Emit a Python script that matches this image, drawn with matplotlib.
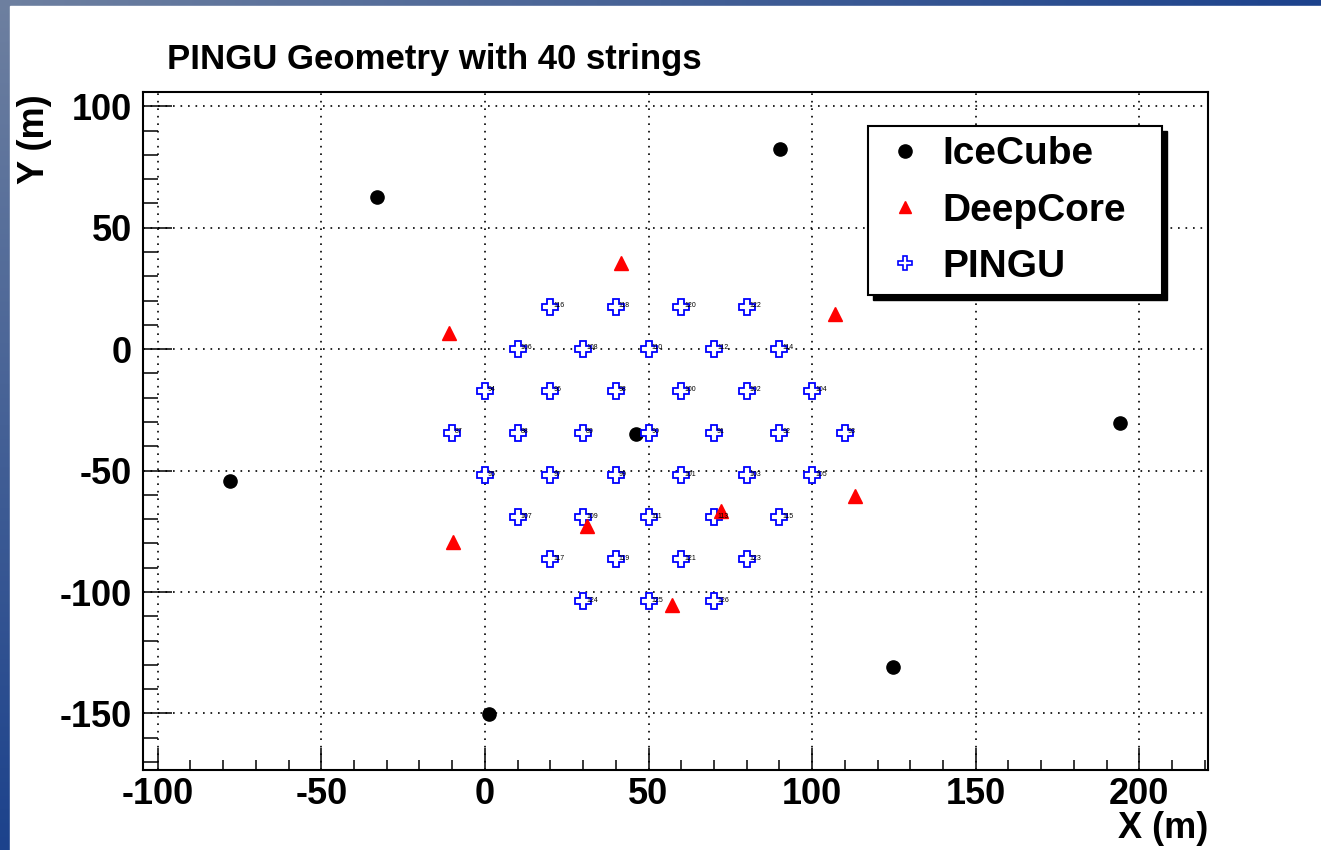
import numpy as np
import matplotlib
matplotlib.use("Agg")
import matplotlib.pyplot as plt
from matplotlib.lines import Line2D
from matplotlib.patches import Rectangle
from matplotlib.ticker import MultipleLocator
from matplotlib.transforms import IdentityTransform

plt.rcParams['font.family'] = ['Liberation Sans', 'DejaVu Sans']
plt.rcParams['font.weight'] = 'bold'
plt.rcParams['axes.unicode_minus'] = False

# IceCube strings (black dots)
icecube_x = [-33.0, 90.3, -77.8, 46.3, 194.0, 124.8, 1.4]
icecube_y = [62.6, 82.6, -54.2, -34.9, -30.5, -130.8, -150.2]

# DeepCore strings (red triangles)
deepcore_x = [41.5, -11.0, 107.0, 113.0, 72.2, -9.9, 31.1, 57.1]
deepcore_y = [35.5, 6.8, 14.6, -60.4, -66.7, -79.4, -72.9, -105.5]

# PINGU strings (blue open crosses) with string numbers
pingu_x = [-10, 10, 30, 50, 70, 90, 110,
           0, 20, 40, 60, 80, 100,
           0, 20, 40, 60, 80, 100,
           10, 30, 50, 70, 90,
           10, 30, 50, 70, 90,
           20, 40, 60, 80,
           20, 40, 60, 80,
           30, 50, 70]
pingu_y = [-34.6] * 7 + [-17.3] * 6 + [-52.0] * 6 + [0.0] * 5 + [-69.3] * 5 \
    + [17.3] * 4 + [-86.6] * 4 + [-103.9] * 3
pingu_id = [87, 88, 89, 90, 91, 92, 93,
            94, 96, 98, 100, 102, 104,
            95, 97, 99, 101, 103, 105,
            106, 108, 110, 112, 114,
            107, 109, 111, 113, 115,
            116, 118, 120, 122,
            117, 119, 121, 123,
            124, 125, 126]

W, H = 1321, 850
fig = plt.figure(figsize=(W / 100, H / 100), dpi=100)

# blue gradient border behind the white page
bg = fig.add_axes([0, 0, 1, 1], zorder=-1)
yy, xx = np.mgrid[0:H, 0:W]
t = np.clip(np.sqrt((xx / W) ** 2 + (yy / H) ** 2), 0, 1)[..., None]
c0 = np.array([110, 128, 160]) / 255
c1 = np.array([28, 66, 140]) / 255
bg.imshow(c0 * (1 - t) + c1 * t, extent=[0, 1, 0, 1], aspect='auto')
bg.add_patch(Rectangle((10 / W, 0), 1, 1 - 6 / H, color='white'))
bg.set_xlim(0, 1)
bg.set_ylim(0, 1)
bg.axis('off')

ax = fig.add_axes([143 / W, 1 - 770 / H, (1208 - 143) / W, (770 - 92) / H])
ax.set_xlim(-104.5, 221)
ax.set_ylim(-173.3, 105.9)

ax.plot(icecube_x, icecube_y, 'o', color='black', ms=9.5, zorder=3)
ax.plot(pingu_x, pingu_y, 'P', mfc='white', mec='#0000ff', mew=1.3, ms=11.5, zorder=4)
ax.plot(deepcore_x, deepcore_y, '^', color='red', ms=9.5, zorder=5)
for px, py, pid in zip(pingu_x, pingu_y, pingu_id):
    ax.annotate(str(pid), (px, py), xytext=(2.2, 1), textcoords='offset points',
                fontsize=5, fontweight='normal', va='center', ha='left', zorder=6)

ax.xaxis.set_major_locator(MultipleLocator(50))
ax.xaxis.set_minor_locator(MultipleLocator(10))
ax.yaxis.set_major_locator(MultipleLocator(50))
ax.yaxis.set_minor_locator(MultipleLocator(10))
ax.set_axisbelow(True)
ax.grid(True, which='major', color='black', linestyle=(0, (1, 3.5)), linewidth=1.2)
ax.tick_params(axis='both', which='both', direction='in', top=False, right=False,
               width=1.1, labelsize=26)
ax.tick_params(axis='y', which='major', length=21, pad=8)
ax.tick_params(axis='y', which='minor', length=10.5)
ax.tick_params(axis='x', which='major', length=16, pad=5)
ax.tick_params(axis='x', which='minor', length=7)
for s in ax.spines.values():
    s.set_linewidth(1.5)

fig.text(167 / W, 1 - 69 / H, 'PINGU Geometry with 40 strings', fontsize=25,
         fontweight='bold', va='baseline', ha='left')
fig.text(34 / W, 1 - 94 / H, 'Y (m)', fontsize=26, fontweight='bold',
         rotation=90, ha='center', va='top')
fig.text(1208 / W, 1 - 811 / H, 'X (m)', fontsize=26, fontweight='bold',
         ha='right', va='top')

handles = [Line2D([], [], marker='o', color='black', ls='none', ms=9.5),
           Line2D([], [], marker='^', color='red', ls='none', ms=8.5),
           Line2D([], [], marker='P', mfc='white', mec='#0000ff', mew=1.2, ls='none', ms=9.5)]
leg = ax.legend(handles, ['IceCube', 'DeepCore', 'PINGU'], loc='upper left',
                bbox_to_anchor=(868 / W, 1 - 295 / H, 294 / W, 169 / H),
                bbox_transform=fig.transFigure, mode='expand', fancybox=False,
                framealpha=1, edgecolor='black', fontsize=28, borderpad=0.27,
                labelspacing=0.52, handlelength=1.36, handletextpad=0.27,
                borderaxespad=0)
leg.get_frame().set_linewidth(1.5)
leg.set_zorder(10)

fig.canvas.draw()
bb = leg.get_window_extent()
ax.add_patch(Rectangle((bb.x0 + 5, bb.y0 - 5), bb.width, bb.height, color='black',
                       transform=IdentityTransform(), clip_on=False, zorder=9))

fig.savefig('out.png', dpi=100)
